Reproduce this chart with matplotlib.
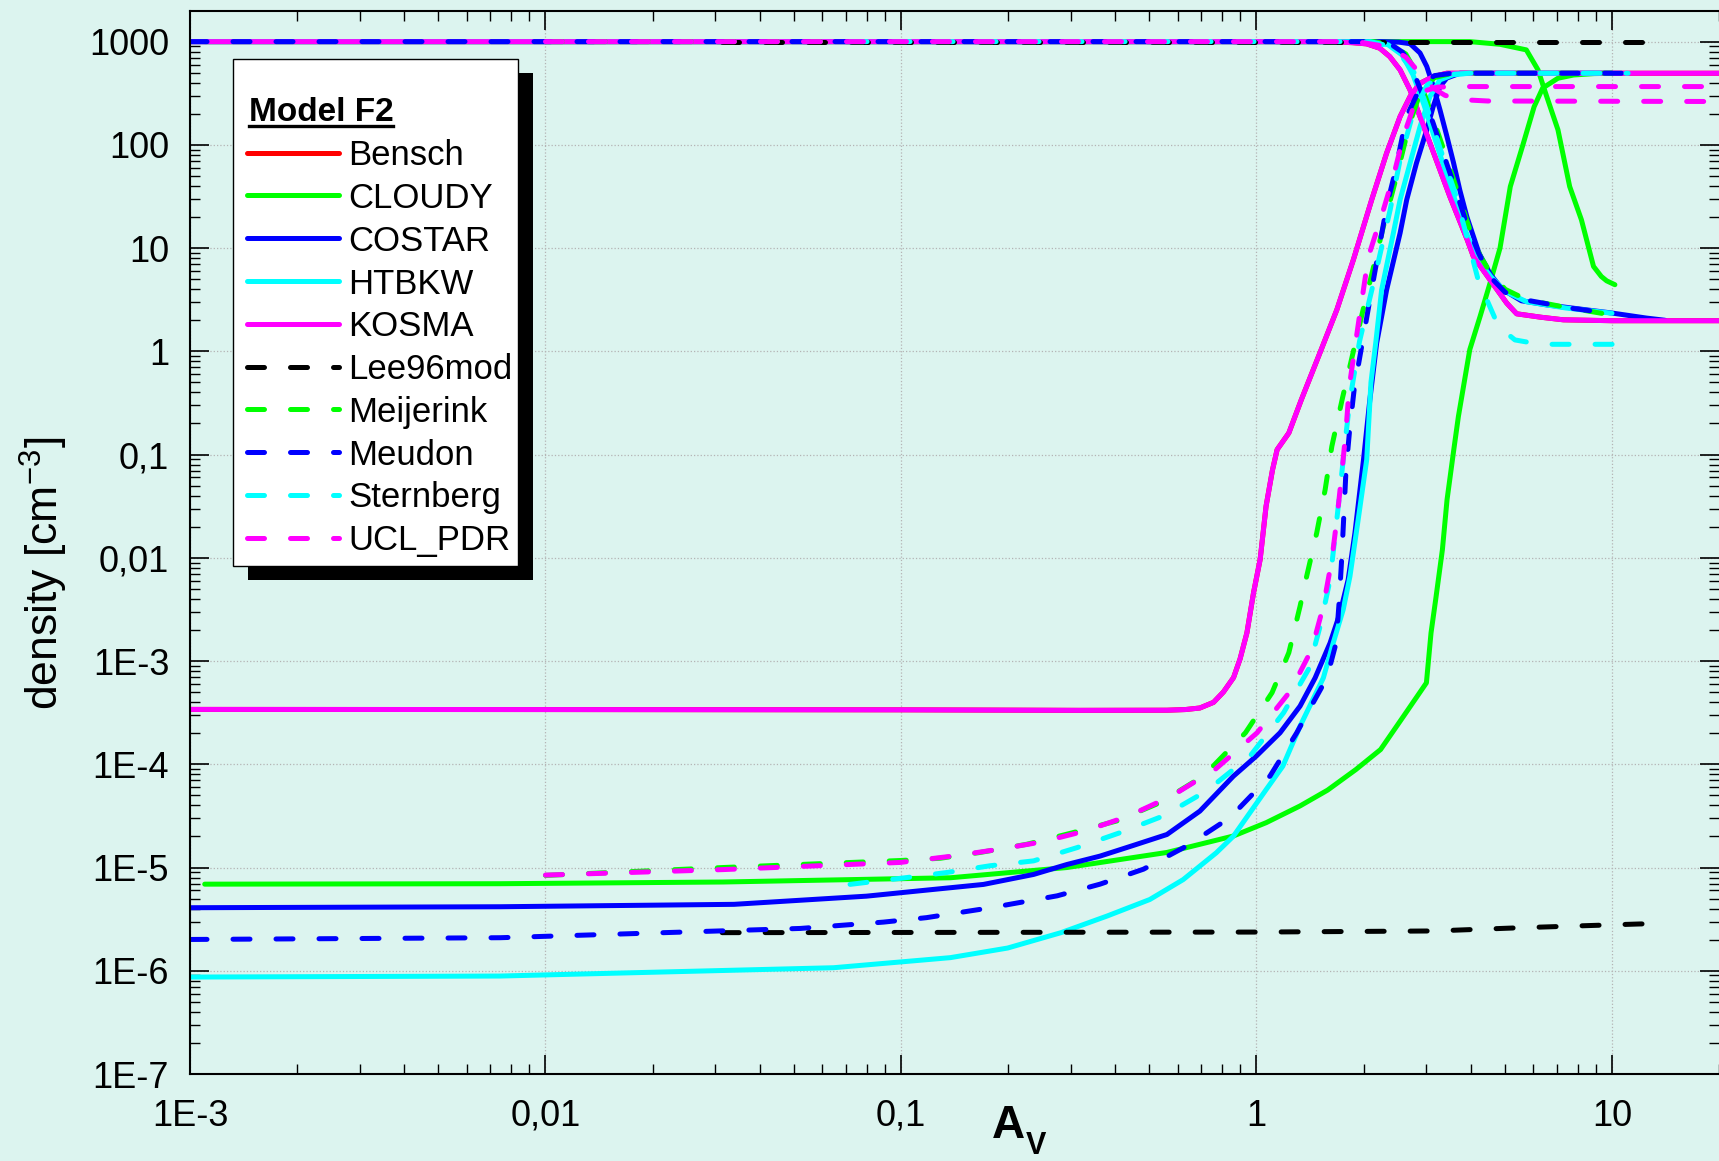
"""
plot.py
=============================================================
Model F2 benchmark: H and H2 densities versus visual extinction A_V
for the PDR codes (one falling H curve, one rising H2 curve per code).
=============================================================
"""

import matplotlib.pyplot as plt
from matplotlib.lines import Line2D
from matplotlib.patches import Rectangle
from matplotlib.ticker import LogLocator, NullFormatter

# ============================================================
# Data
# ============================================================
# --- KOSMA (Bensch lies underneath, same values) ---
kosma_h_av = [0.001, 1.585, 1.862, 2.042, 2.223, 2.371, 2.535, 2.704, 2.884, 3.076,
              3.281, 3.499, 3.917, 4.074, 4.539, 5.058, 5.395, 6.31, 7.295, 10.0, 20.0]
kosma_h = [1000, 1000, 977, 951, 863, 716, 532, 340, 188, 104,
           57.3, 31.6, 12.0, 8.30, 4.93, 2.93, 2.31, 2.14, 2.02, 1.98, 1.98]
kosma_h2_av = [0.001, 0.01, 0.1, 0.316, 0.56, 0.631, 0.693, 0.757, 0.807, 0.862,
               0.899, 0.940, 0.981, 1.024, 1.064, 1.109, 1.143, 1.233, 1.337, 1.514,
               1.683, 1.873, 2.109, 2.323, 2.535, 2.704, 2.884, 3.141, 3.428, 10.0, 20.0]
kosma_h2 = [3.40e-4, 3.39e-4, 3.37e-4, 3.33e-4, 3.34e-4, 3.39e-4, 3.51e-4, 3.98e-4, 5.01e-4, 6.92e-4,
            1.047e-3, 1.88e-3, 4.58e-3, 9.64e-3, 0.0316, 0.0708, 0.1117, 0.1618, 0.340, 1.0,
            2.53, 7.71, 29.4, 83.2, 188, 294, 395, 458, 494, 494, 494]
bensch_h_av, bensch_h = kosma_h_av, kosma_h
bensch_h2_av, bensch_h2 = kosma_h2_av, kosma_h2

# --- CLOUDY ---
cloudy_h_av = [0.0011, 3.981, 4.842, 5.741, 6.194, 6.546, 7.047, 7.603, 8.204, 8.872,
               9.333, 9.66, 10.19]
cloudy_h = [1000, 1000, 942, 832, 532, 297, 140, 39.5, 18.8, 6.65, 5.31, 4.82, 4.42]
cloudy_h2_av = [0.0011, 0.00746, 0.0316, 0.1377, 0.293, 0.560, 0.861, 1.065, 1.326, 1.585,
                1.905, 2.234, 2.592, 3.006, 3.097, 3.192, 3.334, 3.436, 3.589, 3.698,
                3.981, 4.256, 4.539, 4.842, 5.176, 5.598, 6.039, 6.383, 7.047, 7.798,
                8.913, 10.0]
cloudy_h2 = [6.90e-6, 6.97e-6, 7.24e-6, 7.96e-6, 1.0e-5, 1.40e-5, 2.02e-5, 2.72e-5, 3.95e-5, 5.62e-5,
             8.91e-5, 1.39e-4, 2.92e-4, 6.15e-4, 1.87e-3, 3.94e-3, 0.0120, 0.0366, 0.1114, 0.234,
             1.04, 2.18, 4.58, 10.0, 39.5, 96.4, 234, 355, 442, 475,
             490, 494]

# --- COSTAR ---
costar_h_av = [0.001, 2.239, 2.512, 2.704, 2.884, 3.013, 3.141, 3.281, 3.428, 3.581,
               3.733, 3.908, 4.227, 4.560, 4.920, 5.559, 6.546, 10.0, 12.5, 14.1]
costar_h = [1000, 1000, 989, 955, 776, 575, 372, 219, 123, 67.6,
            36.3, 20.0, 8.91, 5.50, 3.98, 3.09, 2.82, 2.35, 2.10, 2.0]
costar_h2_av = [0.001, 0.00746, 0.0339, 0.080, 0.1236, 0.1706, 0.236, 0.293, 0.363, 0.451,
                0.560, 0.693, 0.861, 1.0, 1.165, 1.326, 1.462, 1.611, 1.718, 1.811,
                1.892, 2.000, 2.084, 2.178, 2.323, 2.535, 2.646, 2.818, 3.013, 3.141,
                3.281, 3.428, 3.733, 10.0]
costar_h2 = [4.08e-6, 4.17e-6, 4.40e-6, 5.28e-6, 6.14e-6, 6.86e-6, 8.57e-6, 1.07e-5, 1.29e-5, 1.64e-5,
             2.09e-5, 3.52e-5, 7.67e-5, 1.205e-4, 2.02e-4, 3.66e-4, 6.87e-4, 1.50e-3, 2.92e-3, 6.15e-3,
             0.0174, 0.0893, 0.340, 1.202, 3.94, 14.0, 29.4, 66.5, 140, 235,
             366, 443, 494, 494]

# --- HTBKW ---
htbkw_h_av = [0.001, 2.089, 2.344, 2.570, 2.754, 2.951, 3.162, 3.388, 3.631, 3.890,
              4.169, 4.571, 5.012, 5.754, 7.413, 10.0]
htbkw_h = [1000, 1000, 933, 741, 479, 251, 120, 57.5, 28.2, 14.1,
           7.94, 5.25, 3.80, 3.02, 2.63, 2.34]
htbkw_h2_av = [0.001, 0.00746, 0.0646, 0.1377, 0.1995, 0.282, 0.380, 0.501, 0.622, 0.771,
               0.861, 0.958, 1.065, 1.186, 1.326, 1.542, 1.644, 1.754, 1.832, 1.932,
               2.042, 2.099, 2.168, 2.249, 2.427, 2.535, 2.704, 2.884, 3.076, 3.281,
               3.581, 3.981, 10.0]
htbkw_h2 = [8.69e-7, 8.89e-7, 1.07e-6, 1.34e-6, 1.66e-6, 2.34e-6, 3.39e-6, 4.90e-6, 7.64e-6, 1.39e-5,
            2.01e-5, 3.39e-5, 5.70e-5, 9.59e-5, 2.34e-4, 6.87e-4, 1.50e-3, 3.16e-3, 6.62e-3, 0.0234,
            0.0893, 0.501, 1.259, 3.94, 14.0, 29.4, 66.5, 150, 294, 426,
            479, 494, 494]

# --- Lee96mod ---
lee_h_av = [0.0314, 12.8]
lee_h = [1000, 1000]
lee_h2_av = [0.0314, 1.0, 3.162, 5.508, 11.97, 12.8]
lee_h2 = [2.34e-6, 2.37e-6, 2.43e-6, 2.61e-6, 2.84e-6, 2.85e-6]

# --- Meijerink ---
meij_h_av = [0.01, 2.138, 2.399, 2.630, 2.818, 3.020, 3.236, 3.467, 3.715, 3.981,
             4.266, 4.571, 5.012, 5.754, 7.079, 9.66]
meij_h = [1000, 1000, 933, 759, 501, 263, 132, 66.1, 31.6, 15.1,
          8.32, 5.62, 3.98, 3.16, 2.75, 2.29]
meij_h2_av = [0.01, 0.0316, 0.1, 0.129, 0.167, 0.226, 0.305, 0.405, 0.536, 0.710,
              0.931, 1.106, 1.233, 1.326, 1.384, 1.477, 1.560, 1.629, 1.746, 1.995,
              2.275, 2.477, 2.692, 2.884, 3.162, 3.548, 10.0]
meij_h2 = [8.39e-6, 1.0e-5, 1.17e-5, 1.23e-5, 1.40e-5, 1.68e-5, 2.18e-5, 2.83e-5, 4.26e-5, 7.71e-5,
           2.02e-4, 4.94e-4, 1.205e-3, 3.39e-3, 6.62e-3, 0.0174, 0.0457, 0.120, 0.355, 2.53,
           16.2, 49.3, 158, 316, 447, 494, 494]

# --- Meudon ---
meudon_h_av = [0.001, 2.138, 2.399, 2.570, 2.704, 2.944, 3.141, 3.350, 3.581, 3.890,
               4.217, 4.581, 5.012, 5.875, 7.780, 9.863]
meudon_h = [1000, 1000, 933, 794, 617, 294, 162, 83.2, 42.6, 17.8,
            8.91, 5.12, 3.72, 3.09, 2.60, 2.33]
meudon_h2_av = [0.001, 0.00746, 0.0521, 0.0893, 0.118, 0.178, 0.275, 0.363, 0.481, 0.637,
                0.843, 1.092, 1.298, 1.445, 1.578, 1.675, 1.710, 1.738, 1.762, 1.786,
                1.832, 1.884, 2.084, 2.323, 2.455, 2.642, 2.884, 3.162, 3.548, 11.1]
meudon_h2 = [2.01e-6, 2.09e-6, 2.57e-6, 2.96e-6, 3.27e-6, 4.07e-6, 5.32e-6, 6.90e-6, 9.64e-6, 1.62e-5,
             3.05e-5, 7.71e-5, 2.02e-4, 3.98e-4, 6.87e-4, 1.50e-3, 3.94e-3, 0.01035, 0.0272, 0.0714,
             0.1875, 0.437, 3.16, 25.3, 55.0, 188, 355, 468, 494, 494]

# --- Sternberg ---
stern_h_av = [0.0719, 2.089, 2.344, 2.570, 2.805, 3.020, 3.273, 3.622, 4.018, 4.227,
              4.446, 4.797, 5.333, 6.266, 7.943, 11.1]
stern_h = [1000, 1000, 912, 708, 479, 229, 96.2, 34.0, 8.91, 4.58,
           3.16, 1.74, 1.29, 1.17, 1.17, 1.17]
stern_h2_av = [0.0719, 0.104, 0.1346, 0.178, 0.236, 0.313, 0.414, 0.547, 0.724, 0.960,
               1.192, 1.400, 1.510, 1.611, 1.663, 1.718, 1.774, 1.832, 1.950, 2.133,
               2.377, 2.535, 2.754, 3.020, 3.388, 3.981, 11.1]
stern_h2 = [6.87e-6, 8.0e-6, 8.95e-6, 1.04e-5, 1.16e-5, 1.56e-5, 2.18e-5, 3.16e-5, 5.52e-5, 1.205e-4,
            3.16e-4, 8.28e-4, 2.17e-3, 6.15e-3, 0.01614, 0.0457, 0.1294, 0.340, 1.259, 4.58,
            23.5, 71.6, 200, 380, 479, 494, 494]

# --- UCL_PDR ---
ucl_h_av = [0.01, 1.778, 1.995, 2.344, 2.630, 2.851, 3.141, 3.388, 3.715, 4.467, 20.0]
ucl_h = [1000, 1000, 977, 891, 708, 513, 354, 302, 275, 266, 263]
ucl_h2_av = [0.01, 0.0316, 0.0995, 0.142, 0.188, 0.249, 0.330, 0.437, 0.578, 0.766,
             1.004, 1.246, 1.429, 1.542, 1.629, 1.687, 1.738, 1.786, 1.824, 1.950,
             2.065, 2.275, 2.427, 2.588, 2.754, 2.951, 3.236, 3.981, 20.0]
ucl_h2 = [8.45e-6, 9.55e-6, 1.12e-5, 1.30e-5, 1.50e-5, 1.77e-5, 2.26e-5, 3.16e-5, 4.94e-5, 8.95e-5,
          2.02e-4, 5.13e-4, 1.29e-3, 3.40e-3, 9.59e-3, 0.0252, 0.0664, 0.174, 0.457, 2.24,
          8.30, 23.5, 49.3, 120, 224, 331, 363, 367, 367]

# legend order = drawing order
codes = ["Bensch", "CLOUDY", "COSTAR", "HTBKW", "KOSMA",
         "Lee96mod", "Meijerink", "Meudon", "Sternberg", "UCL_PDR"]
curves = {
    "Bensch": [(bensch_h_av, bensch_h), (bensch_h2_av, bensch_h2)],
    "CLOUDY": [(cloudy_h_av, cloudy_h), (cloudy_h2_av, cloudy_h2)],
    "COSTAR": [(costar_h_av, costar_h), (costar_h2_av, costar_h2)],
    "HTBKW": [(htbkw_h_av, htbkw_h), (htbkw_h2_av, htbkw_h2)],
    "KOSMA": [(kosma_h_av, kosma_h), (kosma_h2_av, kosma_h2)],
    "Lee96mod": [(lee_h_av, lee_h), (lee_h2_av, lee_h2)],
    "Meijerink": [(meij_h_av, meij_h), (meij_h2_av, meij_h2)],
    "Meudon": [(meudon_h_av, meudon_h), (meudon_h2_av, meudon_h2)],
    "Sternberg": [(stern_h_av, stern_h), (stern_h2_av, stern_h2)],
    "UCL_PDR": [(ucl_h_av, ucl_h), (ucl_h2_av, ucl_h2)],
}
x_ticks = [1e-3, 1e-2, 1e-1, 1, 10]
x_labels = ["1E-3", "0,01", "0,1", "1", "10"]
y_ticks = [1e-7, 1e-6, 1e-5, 1e-4, 1e-3, 1e-2, 1e-1, 1, 10, 100, 1000]
y_labels = ["1E-7", "1E-6", "1E-5", "1E-4", "1E-3", "0,01", "0,1", "1", "10", "100", "1000"]

# ============================================================
# Styles
# ============================================================
colors = {"Bensch": "#ff0000", "CLOUDY": "#00ff00", "COSTAR": "#0000ff",
          "HTBKW": "#00ffff", "KOSMA": "#ff00ff", "Lee96mod": "#000000",
          "Meijerink": "#00ff00", "Meudon": "#0000ff", "Sternberg": "#00ffff",
          "UCL_PDR": "#ff00ff"}
DASHED = (0, (3.4, 5.2))
LW = 3.6
BG = "#dcf4ef"
W, H = 1719, 1161


def style_of(name):
    """Solid for the first five codes, dashed for the rest."""
    ls = "-" if codes.index(name) < 5 else DASHED
    return dict(color=colors[name], linestyle=ls, linewidth=LW,
                solid_capstyle="round", dash_capstyle="round")


def fx(px):
    return px / W


def fy(py):
    return 1 - py / H


plt.rcParams["font.family"] = ["Liberation Sans", "DejaVu Sans"]
plt.rcParams["mathtext.fontset"] = "custom"
plt.rcParams["mathtext.rm"] = "Liberation Sans"
plt.rcParams["mathtext.it"] = "Liberation Sans:italic"
plt.rcParams["mathtext.bf"] = "Liberation Sans:bold"

# ============================================================
# Figure
# ============================================================
fig = plt.figure(figsize=(W / 100, H / 100), dpi=100, facecolor=BG)
ax = fig.add_axes([fx(190), fy(1074), (W - 190) / W, (1074 - 11) / H])
ax.set_facecolor(BG)
ax.set_xscale("log")
ax.set_yscale("log")
ax.set_xlim(1e-3, 20)
ax.set_ylim(1e-7, 1980)

for name in codes:
    for av, dens in curves[name]:
        ax.plot(av, dens, **style_of(name))

ax.set_xticks(x_ticks, x_labels)
ax.set_yticks(y_ticks, y_labels)
ax.xaxis.set_minor_locator(LogLocator(base=10, subs=range(2, 10), numticks=50))
ax.yaxis.set_minor_locator(LogLocator(base=10, subs=range(2, 10), numticks=50))
ax.xaxis.set_minor_formatter(NullFormatter())
ax.yaxis.set_minor_formatter(NullFormatter())
ax.tick_params(which="both", direction="in", top=True, right=True, color="black")
ax.tick_params(which="major", length=14, width=1.2, labelsize=26)
ax.tick_params(which="minor", length=7, width=1.0)
ax.tick_params(axis="x", which="major", pad=18)
ax.tick_params(axis="y", which="major", pad=15)
ax.grid(True, which="major", color="#b4b4b4", linestyle=":", linewidth=0.9)
ax.set_axisbelow(True)
for side in ("left", "bottom", "top"):
    ax.spines[side].set_linewidth(1.5)
ax.spines["right"].set_visible(False)

# axis titles
fig.text(fx(44), fy(573), "density [cm$^{-3}$]", rotation=90, fontsize=32,
         ha="center", va="center")
fig.text(fx(992), fy(1138), "A", fontsize=33, fontweight="bold", ha="left", va="baseline")
fig.text(fx(1026), fy(1154), "V", fontsize=22, fontweight="bold", ha="left", va="baseline")

# ============================================================
# Legend box with hard black shadow
# ============================================================
fig.add_artist(Rectangle((fx(248.3), fy(579.6)), (532.7 - 248.3) / W, (579.6 - 73.4) / H,
                         transform=fig.transFigure, facecolor="black", edgecolor="none",
                         zorder=1))
fig.add_artist(Rectangle((fx(233.3), fy(565.5)), (517.7 - 233.3) / W, (565.5 - 59.3) / H,
                         transform=fig.transFigure, facecolor="white", edgecolor="black",
                         linewidth=1.0, zorder=1.1))
fig.text(fx(249.3), fy(121.3), "Model F2", fontsize=24, fontweight="bold",
         ha="left", va="baseline", zorder=3)
fig.add_artist(Line2D([fx(249.3), fx(392.7)], [fy(126.4), fy(126.4)],
                      transform=fig.transFigure, color="black", linewidth=2.4, zorder=2))
for i, name in enumerate(codes):
    y_line = 152.6 + 42.8 * i
    fig.add_artist(Line2D([fx(246.7), fx(339)], [fy(y_line), fy(y_line)],
                          transform=fig.transFigure, zorder=2, **style_of(name)))
    fig.text(fx(348.3), fy(y_line + 12.5), name, fontsize=25,
             ha="left", va="baseline", zorder=3)

fig.savefig("out.png", dpi=100, facecolor=BG)
